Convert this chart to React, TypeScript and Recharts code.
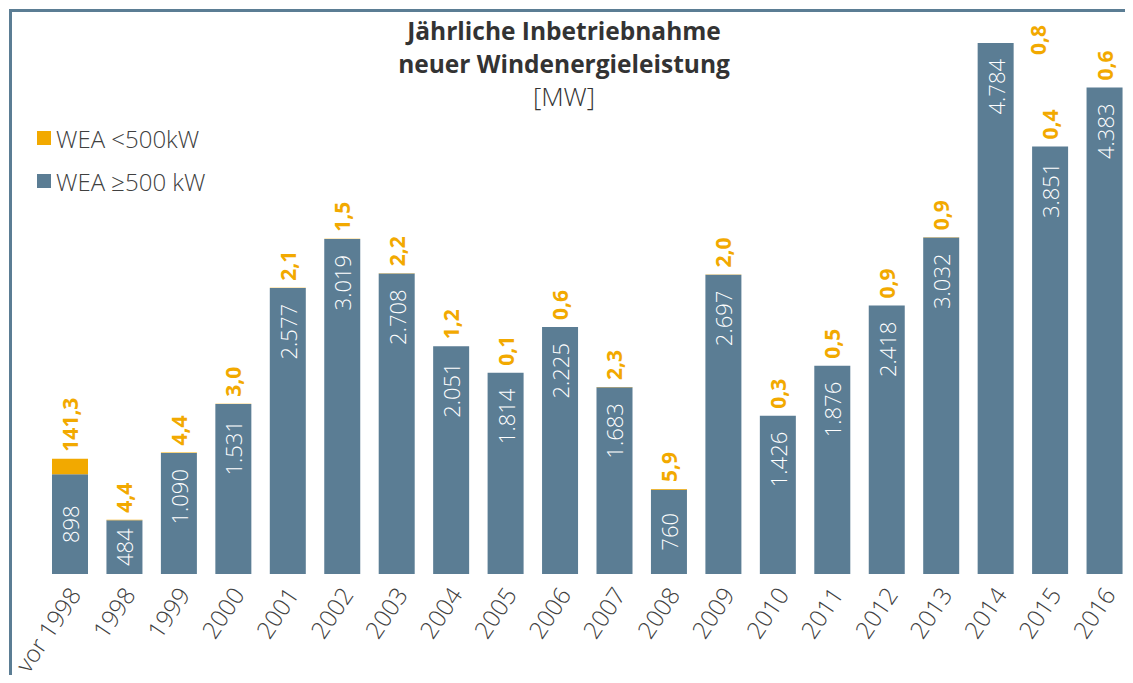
import React from "react";
import { BarChart, Bar, XAxis, YAxis, LabelList } from "recharts";

const categories = [
  "vor 1998", "1998", "1999", "2000", "2001", "2002", "2003", "2004", "2005", "2006",
  "2007", "2008", "2009", "2010", "2011", "2012", "2013", "2014", "2015", "2016",
];

// WEA >= 500 kW, MW
const largeTurbines = [
  898, 484, 1090, 1531, 2577, 3019, 2708, 2051, 1814, 2225,
  1683, 760, 2697, 1426, 1876, 2418, 3032, 4784, 3851, 4383,
];

// WEA < 500 kW, MW
const smallTurbines = [
  141.3, 4.4, 4.4, 3.0, 2.1, 1.5, 2.2, 1.2, 0.1, 0.6,
  2.3, 5.9, 2.0, 0.3, 0.5, 0.9, 0.9, 0.8, 0.4, 0.6,
];

const legendItems = [
  { label: "WEA <500kW", color: "#f2a900" },
  { label: "WEA \u2265500 kW", color: "#5b7d94" },
];

const data = categories.map((c, i) => ({
  year: c,
  large: largeTurbines[i],
  small: smallTurbines[i],
}));

const BLUE = "#5b7d94";
const ORANGE = "#f2a900";
const FONT = "'Open Sans', 'Noto Sans', sans-serif";

// 1.090 style thousands separator
const fmtThousands = (v: number) =>
  String(Math.round(v)).replace(/\B(?=(\d{3})+(?!\d))/g, ".");
const fmtDecimal = (v: number) => v.toFixed(1).replace(".", ",");

const InnerLabel = (props: any) => {
  const { x, y, width, height, value } = props;
  const cx = x + width / 2;
  const short = height < 110;
  const ty = short ? y + height / 2 : y + 16;
  return (
    <text
      x={cx}
      y={ty}
      transform={`rotate(-90 ${cx} ${ty})`}
      textAnchor={short ? "middle" : "end"}
      dominantBaseline="central"
      fill="#ffffff"
      fontSize={22}
      fontWeight={300}
      fontFamily={FONT}
    >
      {fmtThousands(value)}
    </text>
  );
};

const TopLabel = (props: any) => {
  const { x, y, width, value } = props;
  let cx = x + width / 2;
  let ty = y - 7;
  // not enough room above the bar: put it beside the bar
  if (ty - 40 < 18) {
    cx = x + width + 24;
    ty = y + 12;
  }
  return (
    <text
      x={cx}
      y={ty}
      transform={`rotate(-90 ${cx} ${ty})`}
      textAnchor="start"
      dominantBaseline="central"
      fill={ORANGE}
      fontSize={21}
      fontWeight={700}
      fontFamily={FONT}
    >
      {fmtDecimal(value)}
    </text>
  );
};

const YearTick = (props: any) => {
  const { x, y, payload } = props;
  const tx = x + 12;
  const ty = y + 13;
  return (
    <text
      x={tx}
      y={ty}
      transform={`rotate(-56 ${tx} ${ty})`}
      textAnchor="end"
      fill="#404040"
      fontSize={24}
      fontWeight={300}
      fontFamily={FONT}
    >
      {payload.value}
    </text>
  );
};

export default function App() {
  return (
    <div
      style={{
        position: "relative",
        width: 1133,
        height: 683,
        margin: -8,
        overflow: "hidden",
        background: "#fff",
        fontFamily: FONT,
      }}
    >
      <div
        style={{
          position: "absolute",
          left: 9,
          top: 9,
          width: 1200,
          height: 800,
          borderTop: `3px solid ${BLUE}`,
          borderLeft: `3px solid ${BLUE}`,
        }}
      />
      <div
        style={{
          position: "absolute",
          left: 314,
          width: 500,
          top: 14,
          textAlign: "center",
          color: "#333333",
          fontSize: 24.5,
          lineHeight: "33px",
        }}
      >
        <div style={{ fontWeight: 700 }}>Jährliche Inbetriebnahme</div>
        <div style={{ fontWeight: 700 }}>neuer Windenergieleistung</div>
        <div style={{ fontWeight: 300, fontSize: 26 }}>[MW]</div>
      </div>
      <div style={{ position: "absolute", left: 37, top: 121 }}>
        {legendItems.map((it) => (
          <div
            key={it.label}
            style={{
              display: "flex",
              alignItems: "center",
              height: 34,
              marginBottom: 9,
              color: "#404040",
              fontSize: 24,
              fontWeight: 300,
            }}
          >
            <span
              style={{
                display: "inline-block",
                width: 14,
                height: 14,
                background: it.color,
                marginRight: 5,
              }}
            />
            {it.label}
          </div>
        ))}
      </div>
      <div style={{ position: "absolute", left: 0, top: 0 }}>
        <BarChart
          width={1133}
          height={683}
          data={data}
          margin={{ top: 19, right: 1, bottom: 0, left: 43 }}
          barSize={36}
        >
          <XAxis
            dataKey="year"
            axisLine={false}
            tickLine={false}
            interval={0}
            height={109}
            tick={<YearTick />}
          />
          <YAxis hide domain={[0, 5000]} />
          <Bar dataKey="large" stackId="a" fill={BLUE} isAnimationActive={false}>
            <LabelList dataKey="large" content={<InnerLabel />} />
          </Bar>
          <Bar dataKey="small" stackId="a" fill={ORANGE} isAnimationActive={false}>
            <LabelList dataKey="small" content={<TopLabel />} />
          </Bar>
        </BarChart>
      </div>
    </div>
  );
}
